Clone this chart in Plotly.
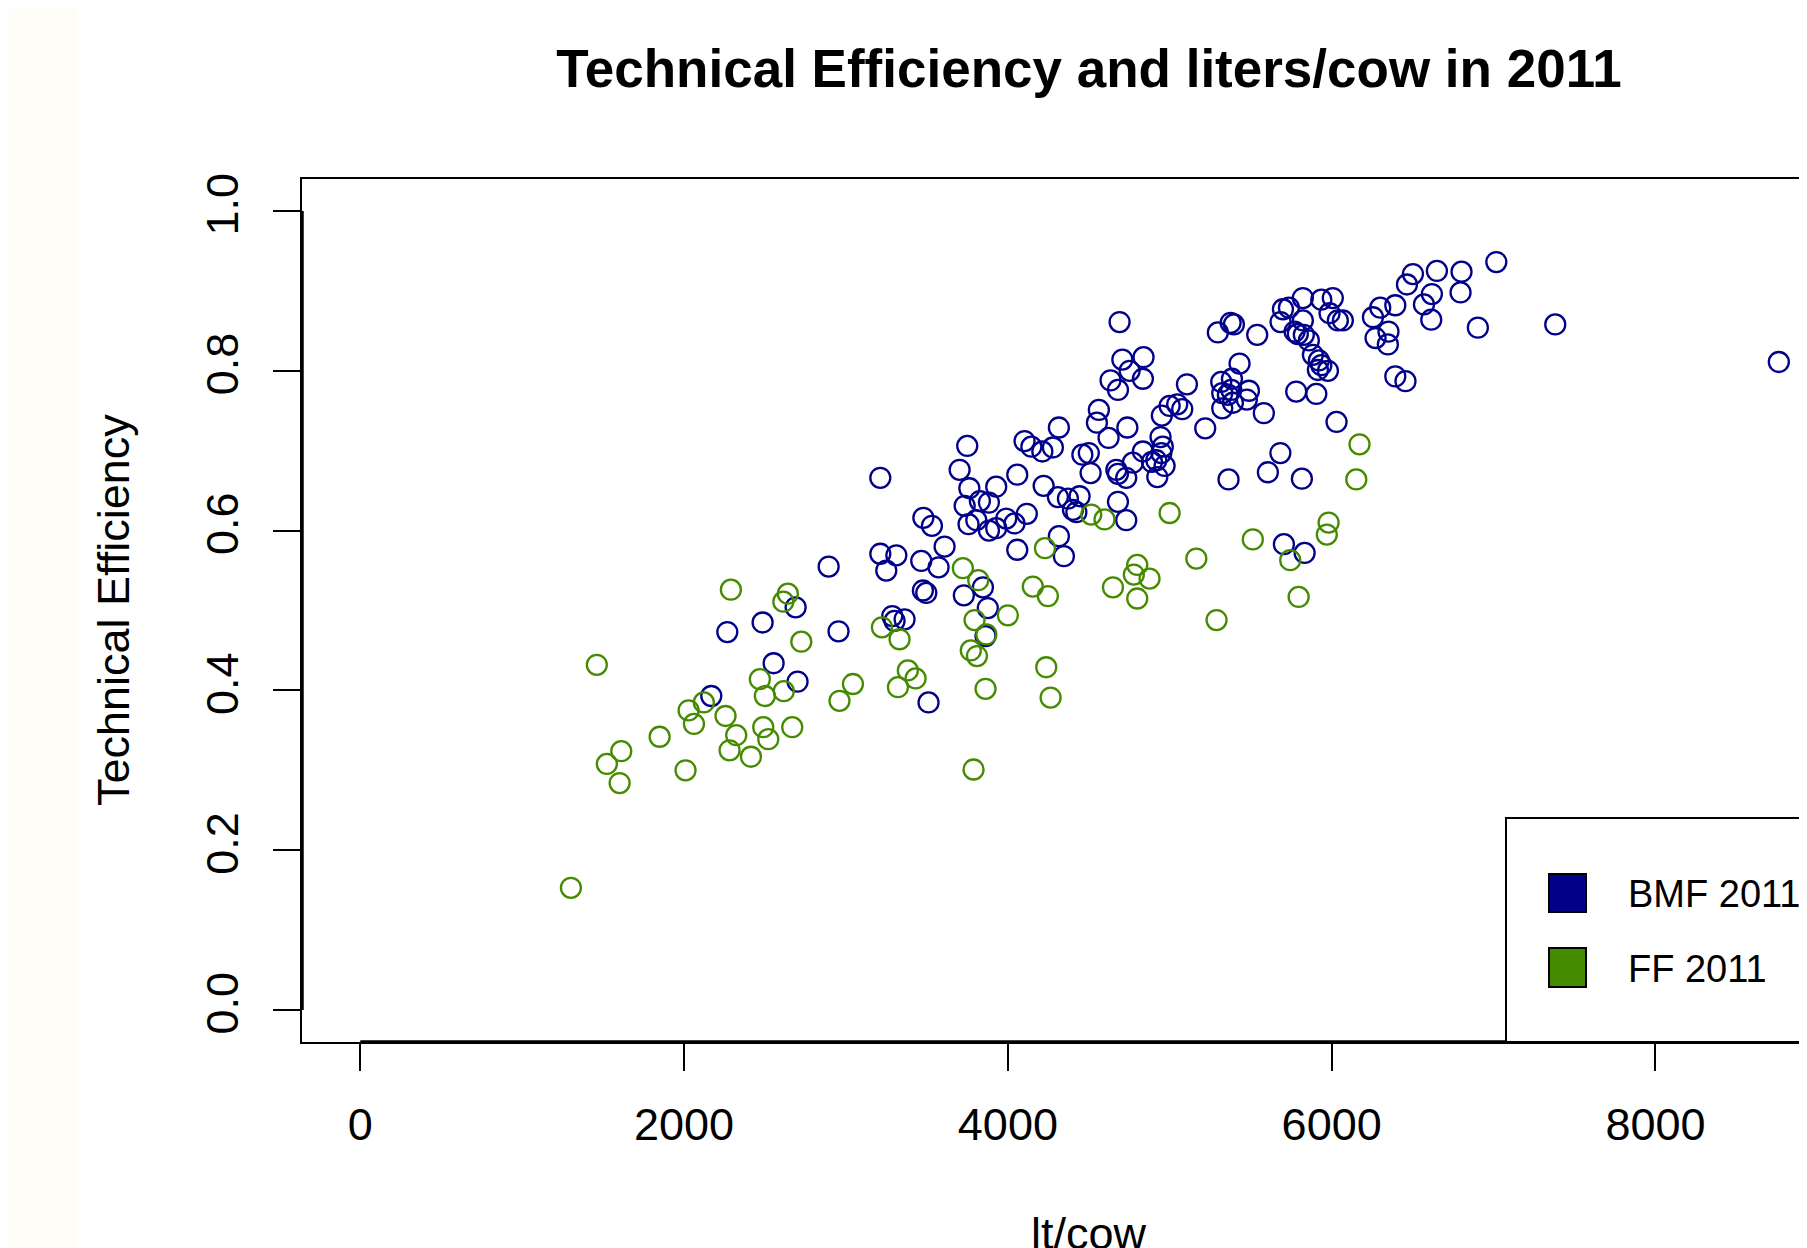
import plotly.graph_objects as go

# ---------------- data ----------------
bmf_x = [3212, 3478, 3531, 3609, 2893, 3212, 3311, 3249, 3465, 3572,
         3475, 3496, 2689, 2267, 2485, 2954, 3286, 3300, 3362, 2553,
         2701, 2168, 3510, 4690, 3749, 3702, 3762, 3733, 3827, 3883,
         3928, 4058, 3757, 3805, 3883, 3928, 3990, 4041, 4117, 4221,
         4309, 4371, 4443, 4402, 4423, 4315, 4346, 4058, 3728, 3846,
         3876, 3862, 4680, 4731, 5705, 5833, 5363, 5606, 5683, 5816,
         6030, 5781, 5905, 5581, 5219, 5431, 5318, 5384, 5324, 5380,
         5489, 5476, 5324, 5390, 5359, 5106, 5077, 5046, 4999, 4951,
         4738, 4562, 4550, 4622, 4315, 4103, 4145, 4213, 4278, 4460,
         4500, 4511, 4670, 4680, 4731, 4772, 4834, 4890, 4943, 4957,
         4948, 4917, 4968, 4923, 4634, 4680, 4707, 4752, 4838, 4834,
         5297, 5376, 5396, 5540, 5699, 5736, 5822, 5684, 5822, 5771,
         5791, 5828, 5859, 5884, 5921, 5936, 5915, 5977, 5936, 6007,
         5987, 6038, 6069, 7017, 6650, 6802, 6502, 6465, 6619, 6570,
         6615, 6796, 6903, 7381, 8762, 6393, 6300, 6255, 6351, 6271,
         6347, 6393, 6456]
bmf_y = [0.666, 0.616, 0.606, 0.580, 0.555, 0.571, 0.569, 0.550, 0.562, 0.554,
         0.525, 0.522, 0.504, 0.473, 0.485, 0.474, 0.493, 0.487, 0.489, 0.434,
         0.411, 0.393, 0.385, 0.861, 0.706, 0.676, 0.653, 0.631, 0.637, 0.635,
         0.655, 0.670, 0.608, 0.613, 0.600, 0.603, 0.615, 0.609, 0.621, 0.656,
         0.642, 0.640, 0.643, 0.626, 0.623, 0.593, 0.568, 0.576, 0.519, 0.529,
         0.503, 0.468, 0.636, 0.613, 0.583, 0.572, 0.664, 0.673, 0.697, 0.665,
         0.736, 0.774, 0.771, 0.747, 0.728, 0.809, 0.786, 0.790, 0.772, 0.776,
         0.775, 0.764, 0.753, 0.760, 0.770, 0.783, 0.752, 0.758, 0.756, 0.744,
         0.729, 0.751, 0.735, 0.716, 0.729, 0.712, 0.705, 0.699, 0.704, 0.695,
         0.697, 0.672, 0.676, 0.671, 0.666, 0.685, 0.699, 0.686, 0.717, 0.705,
         0.697, 0.688, 0.681, 0.667, 0.788, 0.776, 0.814, 0.800, 0.817, 0.790,
         0.848, 0.860, 0.858, 0.845, 0.877, 0.879, 0.891, 0.861, 0.863, 0.849,
         0.846, 0.845, 0.838, 0.820, 0.813, 0.807, 0.801, 0.800, 0.889, 0.891,
         0.872, 0.863, 0.863, 0.936, 0.925, 0.924, 0.921, 0.908, 0.896, 0.883,
         0.864, 0.898, 0.854, 0.858, 0.811, 0.882, 0.879, 0.867, 0.849, 0.841,
         0.833, 0.793, 0.787]

ff_x = [2289, 2641, 2613, 3222, 3331, 2724, 1461, 2468, 2616, 2499,
        2122, 2028, 2061, 2256, 3043, 2960, 3382, 3430, 3321, 1849,
        1612, 1523, 1602, 2009, 2322, 2489, 2520, 2281, 2413, 2668,
        1301, 4000, 3794, 3867, 3771, 3809, 5289, 4237, 4264, 3862,
        3788, 3722, 3817, 4154, 4247, 4229, 4515, 4597, 4999, 4649,
        4799, 4778, 4875, 4799, 5164, 5513, 5744, 5796, 5981, 5970,
        6172, 6152]
ff_y = [0.526, 0.521, 0.511, 0.479, 0.464, 0.461, 0.432, 0.414, 0.399, 0.393,
        0.385, 0.375, 0.358, 0.368, 0.408, 0.387, 0.425, 0.415, 0.404, 0.342,
        0.324, 0.308, 0.284, 0.300, 0.344, 0.354, 0.339, 0.325, 0.317, 0.354,
        0.153, 0.494, 0.488, 0.470, 0.450, 0.443, 0.488, 0.429, 0.391, 0.402,
        0.301, 0.553, 0.538, 0.530, 0.518, 0.578, 0.620, 0.614, 0.622, 0.529,
        0.557, 0.545, 0.540, 0.515, 0.565, 0.589, 0.563, 0.517, 0.610, 0.595,
        0.708, 0.664]

series_names = ["BMF 2011", "FF 2011"]
series_colors = ["#00008B", "#458B00"]

x_ticks = [0, 2000, 4000, 6000, 8000]
x_tick_text = ["0", "2000", "4000", "6000", "8000"]
y_ticks = [0.0, 0.2, 0.4, 0.6, 0.8, 1.0]
y_tick_text = ["0.0", "0.2", "0.4", "0.6", "0.8", "1.0"]

title_text = "Technical Efficiency and liters/cow in 2011"
x_title = "lt/cow"
y_title = "Technical Efficiency"

# ---------------- layout geometry ----------------
# The page body has an 8px margin, so the figure is drawn 8px in from the
# window corner; positions below are given in window pixels and shifted.
OFF = 8
W, H = 1807 - OFF, 1248 - OFF
ML = 302 - OFF
MT = 179 - OFF
PLOT_BOTTOM = 1042 - OFF
MB = H - PLOT_BOTTOM
MR = 0
PW = W - ML - MR
PH = H - MT - MB
FONT = "Liberation Sans, Arial, Helvetica, sans-serif"


def px(xs):
    """window x pixel -> paper x"""
    return (xs - OFF - ML) / PW


def py(ys):
    """window y pixel -> paper y"""
    return (PLOT_BOTTOM - (ys - OFF)) / PH


fig = go.Figure()

for xs, ys, name, col in [(bmf_x, bmf_y, series_names[0], series_colors[0]),
                          (ff_x, ff_y, series_names[1], series_colors[1])]:
    fig.add_trace(go.Scatter(
        x=xs, y=ys, mode="markers", name=name, showlegend=False,
        marker=dict(symbol="circle-open", size=20, color=col,
                    line=dict(width=2.3, color=col)),
    ))

shapes = []
# cream strip at far left
shapes.append(dict(type="rect", xref="paper", yref="paper",
                   x0=px(0), x1=px(77), y0=py(1260), y1=py(-5),
                   fillcolor="#FFFDF7", line=dict(width=0), layer="below"))
# thicker axis lines (R axis drawn over the box)
shapes.append(dict(type="line", xref="paper", yref="y", x0=0, x1=0,
                   y0=y_ticks[0], y1=y_ticks[-1],
                   line=dict(color="black", width=3.5)))
shapes.append(dict(type="line", xref="x", yref="paper", x0=x_ticks[0],
                   x1=x_ticks[-1], y0=0, y1=0,
                   line=dict(color="black", width=3.5)))
# legend box
shapes.append(dict(type="rect", xref="paper", yref="paper",
                   x0=px(1506), x1=px(1830), y0=py(1042), y1=py(818),
                   fillcolor="white", line=dict(color="black", width=2),
                   layer="above"))
# legend keys
key_rows = [(874, 912), (948, 987)]
for (t, b), col in zip(key_rows, series_colors):
    shapes.append(dict(type="rect", xref="paper", yref="paper",
                       x0=px(1549), x1=px(1586), y0=py(b), y1=py(t),
                       fillcolor=col, line=dict(color="black", width=2),
                       layer="above"))

annotations = []
for (t, b), name in zip(key_rows, series_names):
    annotations.append(dict(text=name, xref="paper", yref="paper",
                            x=px(1626), y=py((t + b) / 2 + 1), xanchor="left",
                            yanchor="middle", showarrow=False,
                            font=dict(family=FONT, size=38, color="black")))
annotations.append(dict(text=x_title, xref="paper", yref="paper",
                        x=px(1089), y=py(1233), xanchor="center",
                        yanchor="middle", showarrow=False,
                        font=dict(family=FONT, size=45, color="black")))
annotations.append(dict(text=y_title, xref="paper", yref="paper",
                        x=px(113), y=py(610), xanchor="center",
                        yanchor="middle", showarrow=False, textangle=-90,
                        font=dict(family=FONT, size=45, color="black")))

fig.update_layout(
    width=W, height=H,
    margin=dict(l=ML, r=MR, t=MT, b=MB, pad=0),
    paper_bgcolor="white", plot_bgcolor="white",
    title=dict(text=title_text, x=(1089 - OFF) / W, xref="container",
               xanchor="center", y=1 - (68 - OFF) / H, yref="container",
               yanchor="middle",
               font=dict(family=FONT, size=53, color="black", weight="bold")),
    shapes=shapes, annotations=annotations,
    xaxis=dict(range=[-360, 8936], tickvals=x_ticks, ticktext=x_tick_text,
               showgrid=False, zeroline=False, showline=True,
               linecolor="black", linewidth=2, mirror=True,
               ticks="outside", ticklen=27, tickwidth=2, tickcolor="black",
               ticklabelstandoff=15,
               tickfont=dict(family=FONT, size=45, color="black")),
    yaxis=dict(range=[-0.04, 1.04], tickvals=y_ticks, ticktext=y_tick_text,
               showgrid=False, zeroline=False, showline=True,
               linecolor="black", linewidth=2, mirror=False,
               ticks="outside", ticklen=27, tickwidth=2, tickcolor="black",
               tickangle=-90, ticklabelstandoff=17,
               tickfont=dict(family=FONT, size=45, color="black")),
)

fig.write_html("out.html")
